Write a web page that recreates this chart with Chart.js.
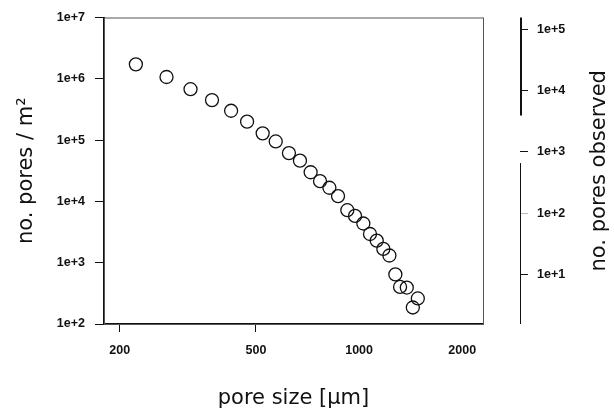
<!DOCTYPE html>
<html>
<head>
<meta charset="utf-8">
<script src="https://cdn.jsdelivr.net/npm/chart.js@4"></script>
<style>
  html, body { margin: 0; padding: 0; background: #fff; }
  canvas { display: block; }
</style>
</head>
<body>
<canvas id="poreChart" width="614" height="411"></canvas>
<script>
/* pore size distribution */
const poreSize = [223, 274, 322, 372, 423, 471, 523, 571, 624, 672, 722, 769, 819,
                  868, 924, 973, 1029, 1076, 1126, 1177, 1226, 1276, 1317, 1378, 1484, 1435];
const poresPerM2 = [1.72e6, 1.07e6, 6.76e5, 4.49e5, 3.01e5, 2.0e5, 1.29e5, 9.5e4, 6.14e4,
                    4.62e4, 2.99e4, 2.14e4, 1.67e4, 1.22e4, 7.18e3, 5.8e3, 4.36e3, 2.94e3,
                    2.29e3, 1.68e3, 1.31e3, 644, 402, 393, 261, 186];

const xTicks = [200, 500, 1000, 2000];
const leftTicks = [1e2, 1e3, 1e4, 1e5, 1e6, 1e7];
const rightTicks = [1e1, 1e2, 1e3, 1e4, 1e5];

const tickFont = { family: '"Liberation Sans", Arial, sans-serif', size: 12.5, weight: 'bold' };
const titleFont = { family: '"DejaVu Sans", sans-serif', size: 21 };
const sci = v => '1e+' + Math.round(Math.log10(v));

/* box round the plot area, the broken observed-count axis line,
   and the right-hand title read bottom to top */
const boxPlugin = {
    id: 'box',
    beforeDatasetsDraw(chart) {
        const { ctx, chartArea: a } = chart;
        ctx.save();
        ctx.strokeStyle = '#555';
        ctx.lineWidth = 1;
        ctx.strokeRect(a.left + 0.5, a.top + 0.5, a.right - a.left, a.bottom - a.top);
        ctx.restore();
    },
    afterDraw(chart) {
        const s = chart.scales.yObs;
        const ctx = chart.ctx;
        const h = s.bottom - s.top;
        ctx.save();
        ctx.strokeStyle = '#111';
        ctx.lineWidth = 2;
        ctx.beginPath();
        ctx.moveTo(s.left + 1, s.top);
        ctx.lineTo(s.left + 1, s.top + h * 0.32);
        ctx.stroke();
        ctx.lineWidth = 1;
        ctx.beginPath();
        ctx.moveTo(s.left + 0.5, s.top + h * 0.475);
        ctx.lineTo(s.left + 0.5, s.bottom);
        ctx.stroke();

        ctx.translate(s.right - 14, (s.top + s.bottom) / 2);
        ctx.rotate(-Math.PI / 2);
        ctx.font = `${titleFont.size}px ${titleFont.family}`;
        ctx.fillStyle = '#111';
        ctx.textAlign = 'center';
        ctx.textBaseline = 'middle';
        ctx.fillText('no. pores observed', 0, 0);
        ctx.restore();
    }
};

new Chart(document.getElementById('poreChart'), {
    type: 'scatter',
    data: {
        datasets: [{
            data: poreSize.map((x, i) => ({ x, y: poresPerM2[i] })),
            pointStyle: 'circle',
            pointRadius: 6.5,
            pointBorderWidth: 1.3,
            pointBorderColor: '#111',
            pointBackgroundColor: 'rgba(0,0,0,0)',
            yAxisID: 'y',
        }],
    },
    options: {
        responsive: false,
        animation: false,
        layout: { padding: { top: 15, left: 0, right: 0, bottom: 0 } },
        plugins: { legend: { display: false }, tooltip: { enabled: false } },
        scales: {
            x: {
                type: 'logarithmic',
                position: 'bottom',
                min: 180,
                max: 2300,
                afterBuildTicks: s => { s.ticks = xTicks.map(v => ({ value: v })); },
                afterFit: s => { s.height = 87; },
                ticks: { font: tickFont, color: '#111', padding: 11, maxRotation: 0, autoSkip: false,
                         callback: v => String(v) },
                grid: { drawOnChartArea: false, tickLength: 8, tickWidth: 1,
                        tickColor: c => (c.tick && c.tick.value <= 500) ? '#111' : 'rgba(0,0,0,0)' },
                border: { color: '#111', width: 1.5 },
                title: { display: true, text: 'pore size [µm]', font: titleFont, color: '#111',
                         padding: { top: 0, bottom: 0 } },
            },
            y: {
                type: 'logarithmic',
                position: 'left',
                min: 100,
                max: 1e7,
                afterBuildTicks: s => { s.ticks = leftTicks.map(v => ({ value: v })); },
                afterFit: s => { s.width = 104; },
                ticks: { font: tickFont, color: '#111', padding: 10, autoSkip: false, callback: sci },
                grid: { drawOnChartArea: false, tickLength: 9, tickWidth: 1, tickColor: '#111' },
                border: { color: '#111', width: 2 },
                title: { display: true, text: 'no. pores / m²', font: titleFont, color: '#111',
                         padding: { top: 14, bottom: 0 } },
            },
            /* spacer so the observed-count axis sits off the box */
            ySpacer: {
                type: 'logarithmic',
                position: 'right',
                weight: 0,
                min: 1,
                max: 10,
                afterFit: s => { s.width = 37; },
                ticks: { display: false },
                grid: { display: false },
                border: { display: false },
            },
            yObs: {
                type: 'logarithmic',
                position: 'right',
                weight: 1,
                min: 1.55,
                max: 1.55e5,
                afterBuildTicks: s => { s.ticks = rightTicks.map(v => ({ value: v })); },
                afterFit: s => { s.width = 94; },
                ticks: { font: tickFont, color: '#111', padding: 9, autoSkip: false, callback: sci },
                grid: { drawOnChartArea: false, tickLength: 8, tickWidth: 1,
                        tickColor: c => (c.tick && c.tick.value === 100) ? '#bbb' : '#111' },
                border: { display: false },
            },
        },
    },
    plugins: [boxPlugin],
});
</script>
</body>
</html>
